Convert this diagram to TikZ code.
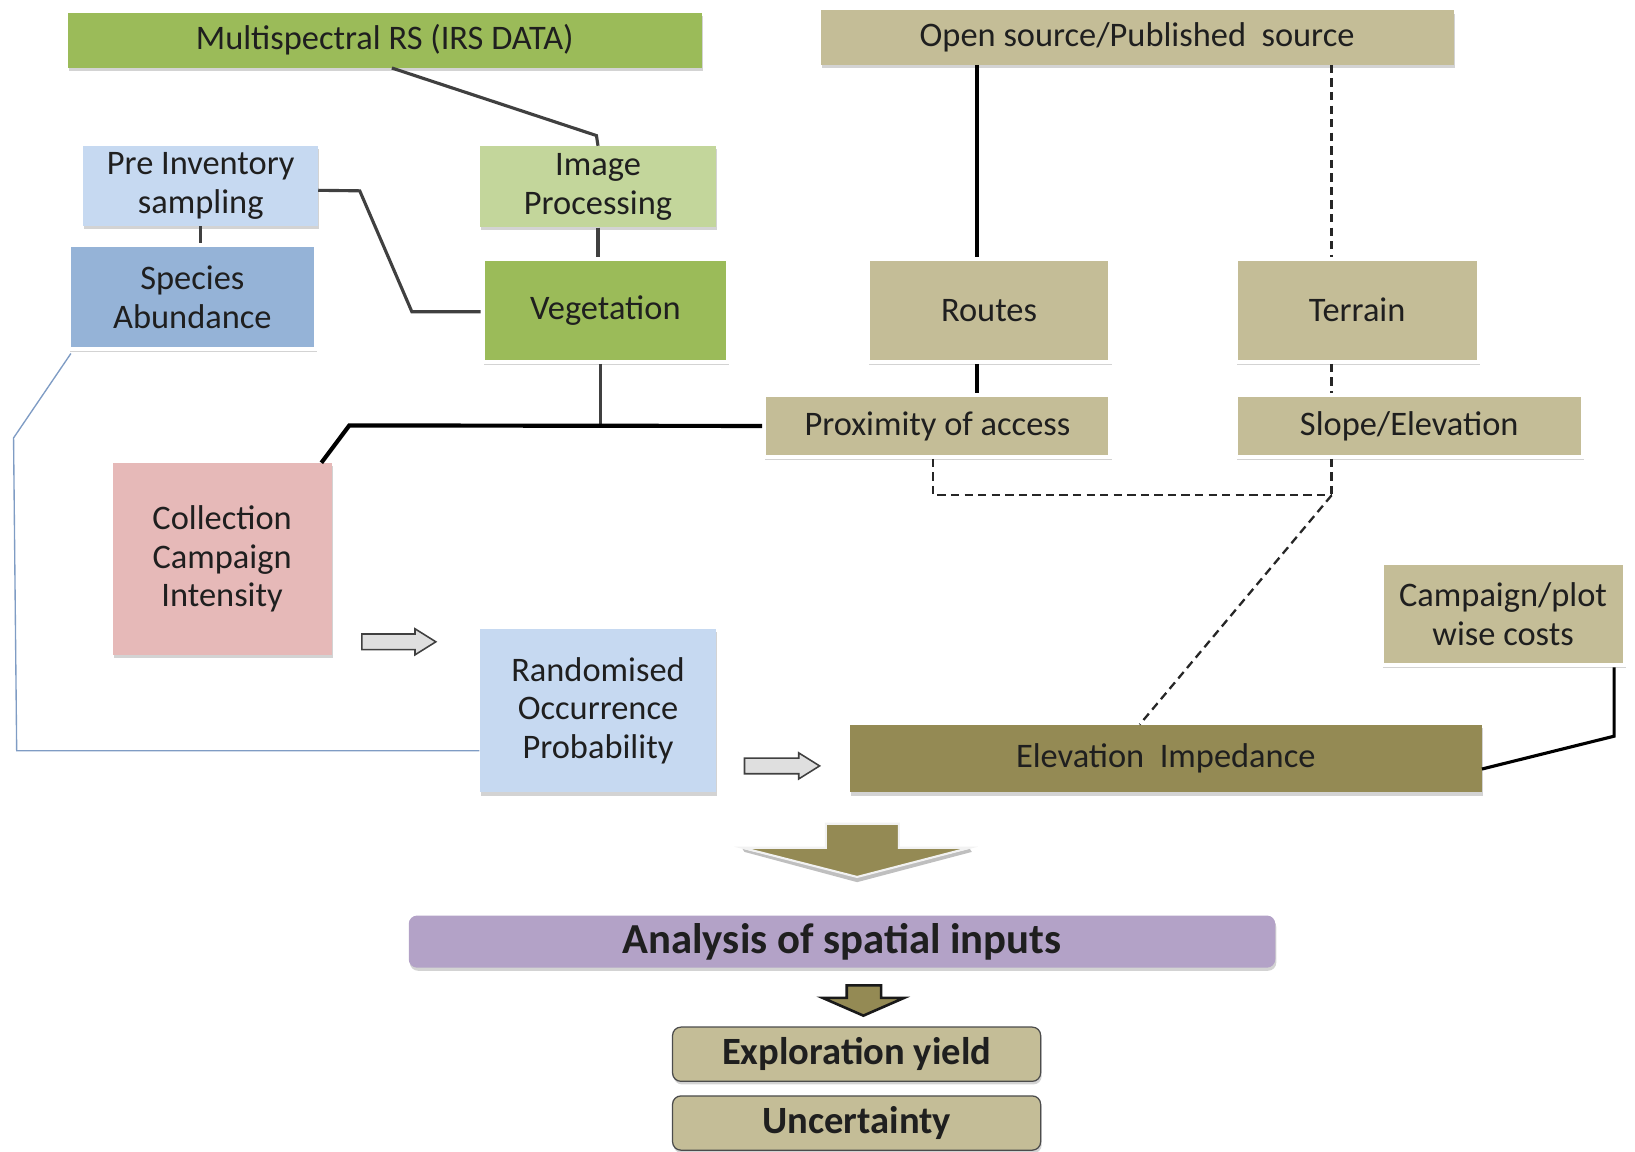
\documentclass[tikz,border=0pt]{standalone}
\usepackage{fontspec}
\setmainfont{Carlito}
\usetikzlibrary{shadows,calc}
\definecolor{grn}{HTML}{9BBB59}
\definecolor{lgrn}{HTML}{C3D69B}
\definecolor{tan}{HTML}{C4BD97}
\definecolor{olv}{HTML}{948A54}
\definecolor{pnk}{HTML}{E6B9B8}
\definecolor{lblu}{HTML}{C6D9F1}
\definecolor{mblu}{HTML}{95B3D7}
\definecolor{prp}{HTML}{B3A2C7}
\definecolor{txt}{HTML}{1F1F1F}
\definecolor{dgr}{HTML}{404040}
\definecolor{thinblue}{HTML}{7F9CC4}
\begin{document}
\begin{tikzpicture}[x=1pt,y=-1pt,
  box/.style={rectangle,inner sep=0pt,align=center,text=txt,
    font=\fontsize{33}{37}\selectfont,
    drop shadow={opacity=0.35,shadow xshift=1pt,shadow yshift=-3pt}},
  wbox/.style={box,draw=white,line width=4pt},
  rbox/.style={box,rounded corners=8pt},
  conn/.style={draw=dgr,line width=3pt},
  bconn/.style={draw=black,line width=3pt},
  dconn/.style={draw=black!85,line width=2.2pt,dash pattern=on 8pt off 5pt},
  harrow/.style={draw=dgr,line width=1.5pt,fill=gray!25,line join=miter}]
\useasboundingbox (0,0) rectangle (1568,1104);
% nodes
\node[box,fill=grn,minimum width=608pt,minimum height=53pt] (ms) at (369,38.5) {Multispectral RS (IRS DATA)};
\node[box,fill=tan,minimum width=607pt,minimum height=52pt] (os) at (1090.5,36) {Open source/Published\ \ source};
\node[box,fill=lblu,minimum width=225pt,minimum height=77pt] (pre) at (192.5,178.5) {Pre Inventory\\sampling};
\node[box,fill=lgrn,minimum width=227pt,minimum height=78pt] (img) at (573.5,179) {Image\\Processing};
\node[wbox,fill=mblu,minimum width=237pt,minimum height=100pt] (spec) at (184.5,285) {Species\\Abundance};
\node[wbox,fill=grn,minimum width=235pt,minimum height=99pt] (veg) at (580.5,297.5) {Vegetation};
\node[wbox,fill=tan,minimum width=233pt,minimum height=99pt] (routes) at (948.5,297.5) {Routes};
\node[wbox,fill=tan,minimum width=233pt,minimum height=99pt] (terr) at (1301.5,297.5) {Terrain};
\node[wbox,fill=tan,minimum width=332pt,minimum height=59pt] (prox) at (899,408.5) {Proximity of access};
\node[wbox,fill=tan,minimum width=333pt,minimum height=59pt] (slope) at (1351.5,408.5) {Slope/Elevation};
\node[box,fill=pnk,minimum width=210pt,minimum height=184pt] (coll) at (213,536) {Collection\\Campaign\\Intensity};
\node[box,fill=lblu,minimum width=227pt,minimum height=157pt] (rand) at (573.5,681.5) {Randomised\\Occurrence\\Probability};
\node[wbox,fill=tan,minimum width=233pt,minimum height=98pt] (cost) at (1441.5,589) {Campaign/plot\\wise costs};
\node[box,fill=olv,minimum width=606pt,minimum height=65pt] (elev) at (1118,727.5) {Elevation\ \ Impedance};
\node[rbox,fill=prp,minimum width=831pt,minimum height=50pt,font=\fontsize{41}{44}\selectfont\bfseries] (anal) at (807.5,903) {Analysis of spatial inputs};
\node[rbox,fill=tan,draw=black!70,line width=1.2pt,minimum width=353pt,minimum height=52pt,font=\fontsize{37}{40}\selectfont\bfseries] (expl) at (821.5,1011) {Exploration yield};
\node[rbox,fill=tan,draw=black!70,line width=1.2pt,minimum width=353pt,minimum height=52pt,font=\fontsize{37}{40}\selectfont\bfseries] (unc) at (821.5,1077) {Uncertainty};
% helper coordinates
\coordinate (xr) at (937,0);
\coordinate (xt) at (1277,0);
\coordinate (xp) at (895,0);
\coordinate (jd) at (1277,475);
% connectors
\draw[conn] ($(ms.south west)+(311,0)$) -- (572,130) -- (img.north);
\draw[conn] ($(pre.east)+(0,4)$) -- (345,183) -- (395,299) -- (veg.west |- 0,299);
\draw[conn] (pre.south) -- (spec.north -| pre.south);
\draw[conn] (img.south) -- (veg.north -| img.south);
\draw[conn] (veg.south -| 576,0) -- (576,408);
\draw[draw=black,line width=4pt,line join=miter] ($(coll.north east)+(-10,0)$) -- (335,408) -- (prox.west);
\draw[bconn] (os.south -| xr) -- (routes.north -| xr);
\draw[bconn] (routes.south -| xr) -- (prox.north -| xr);
\draw[dconn] (os.south -| xt) -- (terr.north -| xt);
\draw[dconn] (terr.south -| xt) -- (slope.north -| xt);
\draw[dconn] (prox.south -| xp) -- (895,475) -- (jd);
\draw[dconn] (slope.south -| xt) -- (jd);
\draw[dconn] (jd) -- (elev.north -| 1093,0);
\draw[bconn,line join=miter] (cost.south -| 1548,0) -- (1548,706) -- ($(elev.east)+(0,10)$);
\draw[draw=thinblue,line width=1.3pt] ($(spec.south west)+(4,2)$) -- (13,420) -- (16,720) -- (rand.west |- 0,720);
% block arrows
\draw[harrow] (347,608) -- (398,608) -- (398,603) -- (418,615.5) -- (398,628) -- (398,623) -- (347,623) -- cycle;
\draw[harrow] (714,727) -- (766,727) -- (766,722) -- (786,734.5) -- (766,747) -- (766,742) -- (714,742) -- cycle;
\fill[black!25] (714,817) -- (822,846) -- (932,817) -- (930,814) -- (822,841) -- (712,814) -- cycle;
\filldraw[fill=olv,draw=white!90!gray,line width=2pt,line join=miter] (792,790) -- (862,790) -- (862,813) -- (930,813) -- (822,841) -- (712,813) -- (792,813) -- cycle;
\filldraw[fill=olv,draw=black!90,line width=2.5pt,line join=miter] (812,945) -- (845,945) -- (845,957) -- (867,957) -- (828,974) -- (789,957) -- (812,957) -- cycle;
\end{tikzpicture}
\end{document}
